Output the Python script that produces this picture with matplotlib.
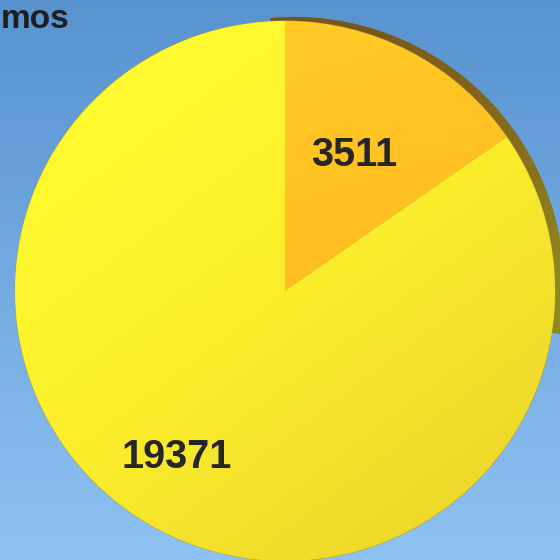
import numpy as np
import matplotlib
matplotlib.use('Agg')
import matplotlib.pyplot as plt
from matplotlib.patches import Wedge
from matplotlib.colors import LinearSegmentedColormap

# ---- data ----
values = [3511, 19371]
labels = ['3511', '19371']
colors = ['#ffc21e', '#fff12c']
title_fragment = 'mos'

W = H = 560
fig = plt.figure(figsize=(5.6, 5.6), dpi=100)
ax = fig.add_axes([0, 0, 1, 1])

# background gradient
grad = np.linspace(0, 1, 256)[:, None]
bg = LinearSegmentedColormap.from_list('bg', ['#5893d0', '#8ec2f2'])
ax.imshow(grad, extent=(0, W, 0, H), cmap=bg, aspect='auto', zorder=0)

cx, cy, r = 285, 560 - 291, 270

# 3D rim (side of the pie), shaded brown -> olive
rim = Wedge((cx + 9, cy + 4), r, -10, 95, facecolor='#86661c', edgecolor='none', zorder=1)
ax.add_patch(rim)
n = 300
xs = np.linspace(cx - r, cx + r + 20, n)
ys = np.linspace(cy + r + 10, cy - r, n)
X, Y = np.meshgrid(xs, ys)
ang = np.degrees(np.arctan2(Y - cy, X - cx))
t_r = np.clip((75 - ang) / 75, 0, 1)
cm_r = LinearSegmentedColormap.from_list('r', ['#7a5519', '#86691b', '#8f8a1f'])
imr = ax.imshow(t_r, extent=(cx - r, cx + r + 20, cy - r, cy + r + 10), cmap=cm_r,
                vmin=0, vmax=1, zorder=1, aspect='auto')
imr.set_clip_path(rim)

wedges, _ = ax.pie(values, colors=colors, startangle=90, counterclock=False,
                   center=(cx, cy), radius=r, frame=True,
                   wedgeprops=dict(linewidth=0.7, edgecolor='#a89a40'))
for w in wedges:
    w.set_zorder(2)
ax.set_xlim(0, W)
ax.set_ylim(0, H)
ax.set_aspect('auto')
ax.axis('off')

# shading gradients clipped to each wedge
xs = np.linspace(cx - r, cx + r, n)
ys = np.linspace(cy + r, cy - r, n)
X, Y = np.meshgrid(xs, ys)
ext = (cx - r, cx + r, cy - r, cy + r)

t_o = np.clip(((X - cx) * 0.3 - (Y - cy) * 1.0) / r * 0.5 + 0.5, 0, 1)
cm_o = LinearSegmentedColormap.from_list('o', ['#ffcb26', '#ffb01b'])
im = ax.imshow(t_o, extent=ext, cmap=cm_o, vmin=0, vmax=1, zorder=3, aspect='auto')
im.set_clip_path(wedges[0])

t_y = np.clip(((X - cx) * 0.6 - (Y - cy) * 0.8) / r * 0.5 + 0.5, 0, 1)
cm_y = LinearSegmentedColormap.from_list('y', ['#fffb30', '#fbee2c', '#efd92a'])
im2 = ax.imshow(t_y, extent=ext, cmap=cm_y, vmin=0, vmax=1, zorder=3, aspect='auto')
im2.set_clip_path(wedges[1])

# value labels (distance, angular nudge)
dists = [0.575, 0.725]
nudges = [1.0, -6.0]
for w, lab, d, nd in zip(wedges, labels, dists, nudges):
    a = np.deg2rad((w.theta1 + w.theta2) / 2 + nd)
    ax.text(cx + d * r * np.cos(a), cy + d * r * np.sin(a) - 3, lab,
            ha='center', va='center', fontsize=28.5, fontweight='bold',
            family='Liberation Sans', color='#262626', zorder=5)

ax.text(1, H - 4, title_fragment, ha='left', va='top', fontsize=24,
        fontweight='bold', family='Liberation Sans', color='#1e1e1e', zorder=5)

fig.savefig('out.png', dpi=100)
